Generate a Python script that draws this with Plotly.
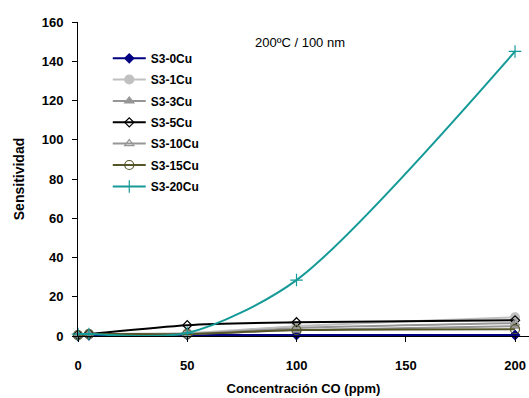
import plotly.graph_objects as go

x_ppm = [0, 5, 50, 100, 200]
s0 = [0.0, 0.3, 0.5, 0.5, 0.5]
s1 = [0.5, 1.0, 1.5, 5.0, 9.5]
s3 = [0.5, 1.0, 1.0, 3.0, 5.0]
s5 = [0.5, 1.0, 5.5, 7.0, 8.0]
s10 = [0.5, 1.0, 1.0, 4.0, 6.5]
s15 = [0.5, 1.0, 1.0, 3.0, 3.5]
s20 = [1.0, 1.0, 1.5, 28.5, 145.0]

names = ["S3-0Cu", "S3-1Cu", "S3-3Cu", "S3-5Cu", "S3-10Cu", "S3-15Cu", "S3-20Cu"]
series = [s0, s1, s3, s5, s10, s15, s20]
colors = ["#000080", "#C0C0C0", "#969696", "#000000", "#969696", "#55552A", "#159A98"]
symbols = ["diamond", "circle", "triangle-up", "diamond-open", "triangle-up-open", "circle-open", "cross-thin"]
msizes = [7, 9, 8, 7, 8, 9, 9]

font_fam = "Liberation Sans Narrow, Arial Narrow, Liberation Sans, Arial"

W, H = 529, 398
ML, MT, MB, MR = 78, 22, 62, 0
plot_h = H - MT - MB

fig = go.Figure()
legend_layout = {}
legend_page_y = [58.3, 79.5, 101, 122.3, 143.6, 165, 186.5]
for i, (n, s, c, sym, ms) in enumerate(zip(names, series, colors, symbols, msizes)):
    key = "legend" if i == 0 else f"legend{i+1}"
    fig.add_trace(go.Scatter(
        x=x_ppm, y=s, name=n, mode="lines+markers",
        line=dict(color=c, width=2, shape="spline", smoothing=0.8),
        marker=dict(symbol=sym, size=ms, color=c, line=dict(color=c, width=1.2)),
        cliponaxis=False, legend=key,
    ))
    py = legend_page_y[i]
    legend_layout[key] = dict(
        x=0.066, y=(H - MB - py) / plot_h, xanchor="left", yanchor="middle",
        font=dict(family=font_fam, size=12, color="black", weight="bold"),
        bgcolor="rgba(0,0,0,0)", itemwidth=33, borderwidth=0,
    )

fig.add_annotation(text="200ºC / 100 nm", xref="paper", yref="paper",
                   x=0.492, y=0.936, xanchor="center", yanchor="middle", showarrow=False,
                   font=dict(family=font_fam, size=13, color="black"))

fig.update_layout(
    width=W, height=H,
    margin=dict(l=ML, r=MR, t=MT, b=MB),
    paper_bgcolor="white", plot_bgcolor="white",
    font=dict(family=font_fam, size=13, color="black"),
    showlegend=True,
    **legend_layout,
)
fig.update_xaxes(range=[0, 206.4], tickvals=[0, 50, 100, 150, 200], automargin=False,
                 showline=True, linecolor="black", linewidth=1,
                 ticks="outside", ticklen=5, tickcolor="black", showgrid=False, zeroline=False,
                 ticklabelstandoff=12,
                 tickfont=dict(family=font_fam, size=13, weight="bold"),
                 title=dict(text="Concentración CO (ppm)", standoff=12,
                            font=dict(family=font_fam, size=13, weight="bold")))
fig.update_yaxes(range=[0, 160], tickvals=[0, 20, 40, 60, 80, 100, 120, 140, 160], automargin=False,
                 showline=True, linecolor="black", linewidth=1,
                 ticks="outside", ticklen=5, tickcolor="black", showgrid=False, zeroline=False,
                 ticklabelstandoff=6,
                 tickfont=dict(family=font_fam, size=13, weight="bold"),
                 title=dict(text="Sensitividad", standoff=13,
                            font=dict(family=font_fam, size=14, weight="bold")))

fig.write_html("out.html", config={"displayModeBar": False},
               post_script="document.body.style.margin='0';document.body.style.overflow='hidden';")
